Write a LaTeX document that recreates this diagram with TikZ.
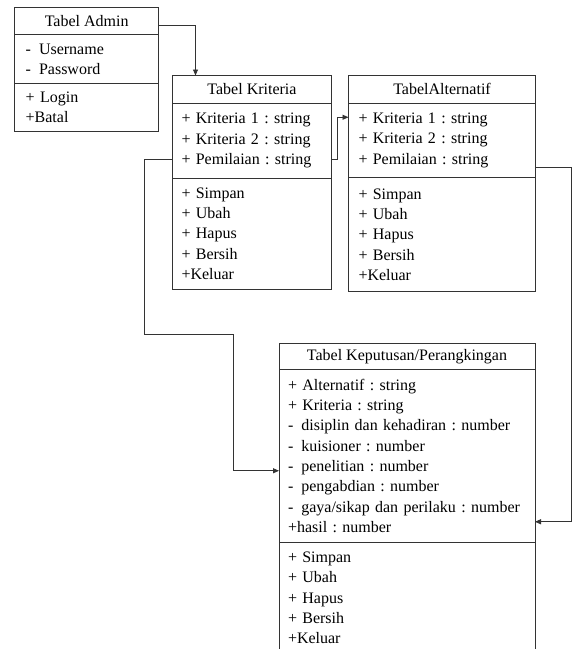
\documentclass[tikz,border=0pt]{standalone}
\usepackage{fontspec}
\setmainfont{Liberation Serif}
\usetikzlibrary{arrows.meta, positioning}

\begin{document}
\begin{tikzpicture}[x=1pt, y=-1pt,
    every node/.style={font=\fontsize{16}{20.3}\selectfont\frenchspacing},
    box/.style={draw=black!80, line width=0.9pt, inner ysep=0pt, outer sep=0pt},
    box title/.style={box, align=center, inner xsep=0pt, anchor=north west},
    box part/.style={box, align=left, inner xsep=9pt, anchor=north},
    link/.style={draw=black!80, line width=0.9pt, -{Triangle[length=6pt,width=5pt]}}]

    \useasboundingbox (0,0) rectangle (576,649);

    % Tabel Admin
    \node[box title, minimum width=144pt, minimum height=27pt] (admTitle) at (14.7,7.5) {Tabel Admin};
    \node[box part, text width=122pt, inner xsep=11pt, minimum height=49pt, below=0pt of admTitle] (admAttr)
        {-\enspace Username\\-\enspace Password};
    \node[box part, text width=122pt, inner xsep=11pt, minimum height=48pt, below=0pt of admAttr] (admOper)
        {+ Login\\+Batal};

    % Tabel Kriteria
    \node[box title, minimum width=159pt, minimum height=27.5pt] (kriTitle) at (172.5,75.5) {Tabel Kriteria};
    \node[box part, text width=141pt, minimum height=75pt, below=0pt of kriTitle] (kriAttr)
        {+ Kriteria 1 : string\\+ Kriteria 2 : string\\+ Pemilaian : string};
    \node[box part, text width=141pt, minimum height=111.5pt, below=0pt of kriAttr] (kriOper)
        {+ Simpan\\+ Ubah\\+ Hapus\\+ Bersih\\+Keluar};

    % Tabel Alternatif
    \node[box title, minimum width=187pt, minimum height=27.5pt] (altTitle) at (348.5,75.5) {TabelAlternatif};
    \node[box part, text width=167pt, inner xsep=10pt, minimum height=74.5pt, below=0pt of altTitle] (altAttr)
        {+ Kriteria 1 : string\\+ Kriteria 2 : string\\+ Pemilaian : string};
    \node[box part, text width=167pt, inner xsep=10pt, minimum height=114pt, below=0pt of altAttr] (altOper)
        {+ Simpan\\+ Ubah\\+ Hapus\\+ Bersih\\+Keluar};

    % Tabel Keputusan/Perangkingan
    \node[box title, minimum width=256pt, minimum height=26.5pt] (kepTitle) at (279,343) {Tabel Keputusan/Perangkingan};
    \node[box part, text width=238pt, minimum height=172.5pt, below=0pt of kepTitle] (kepAttr)
        {+ Alternatif : string\\+ Kriteria : string\\-\enspace disiplin dan kehadiran : number\\
         -\enspace kuisioner : number\\-\enspace penelitian : number\\-\enspace pengabdian : number\\
         -\enspace gaya/sikap dan perilaku : number\\+hasil : number};
    \node[box part, text width=238pt, minimum height=112pt, below=0pt of kepAttr] (kepOper)
        {+ Simpan\\+ Ubah\\+ Hapus\\+ Bersih\\+Keluar};

    \coordinate (bendA) at (144.5,334);
    \coordinate (bendB) at (233,334);

    \draw[link] ([yshift=-4pt]admTitle.east) -| ([xshift=23pt]kriTitle.north west);
    \draw[link] ([yshift=-19pt]kriAttr.east) -- ++(6pt,0) |- ([yshift=23pt]altAttr.west);
    \draw[link] ([yshift=-19pt]kriAttr.west) -| (bendA) -- (bendB) |- ([yshift=-15pt]kepAttr.west);
    \draw[link] ([yshift=-27pt]altAttr.east) -- ++(35.5pt,0) |- ([yshift=-66pt]kepAttr.east);

\end{tikzpicture}
\end{document}
